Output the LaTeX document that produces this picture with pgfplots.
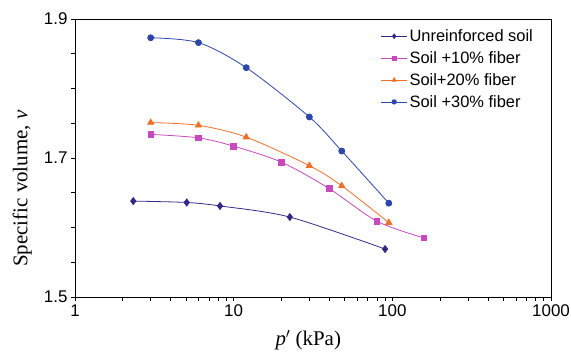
\documentclass[border=0pt]{standalone}
\usepackage{fontspec}
\setmainfont{Liberation Sans}
\newfontfamily\seriffont{Liberation Serif}
\usepackage{pgfplots}
\pgfplotsset{compat=1.18}
\definecolor{cUnr}{RGB}{52,40,135}
\definecolor{cTen}{RGB}{200,72,190}
\definecolor{cTwe}{RGB}{242,110,40}
\definecolor{cThi}{RGB}{45,70,170}
\begin{document}
\begin{tikzpicture}
\begin{axis}[
  at={(0,0)}, anchor=south west,
  scale only axis, width=476bp, height=278bp,
  xmode=log, xmin=1, xmax=1000, ymin=1.5, ymax=1.9,
  log ticks with fixed point,
  /pgf/number format/1000 sep={},
  xtick={1,10,100,1000},
  ytick={1.5,1.7,1.9},
  minor ytick={1.55,1.6,1.65,1.75,1.8,1.85},
  yticklabel style={/pgf/number format/fixed,/pgf/number format/fixed zerofill,/pgf/number format/precision=1},
  /pgf/number format/assume math mode=true,
  xtick pos=left, ytick pos=left,
  tick align=outside,
  major tick length=4bp, minor tick length=4bp,
  tick style={black, line width=0.6bp},
  axis line style={line width=0.8bp},
  ticklabel style={font=\fontsize{17}{19}\selectfont},
  xlabel={{\seriffont\fontsize{21}{24}\selectfont\textit{p}$'$ (kPa)}},
  ylabel={{\seriffont\fontsize{21}{24}\selectfont Specific volume, \textit{v}}},
  xlabel style={at={(axis description cs:0.49,-0.155)}, anchor=center},
  ylabel style={at={(axis description cs:-0.111,0.39)}, anchor=center},
  legend style={draw=none, fill=none, at={(axis description cs:0.642,0.97)}, anchor=north west,
    font=\fontsize{16.5}{18}\selectfont, row sep=4.5bp, inner sep=0pt,
    cells={anchor=west}},
  legend image code/.code={\draw[mark repeat=2,mark phase=2,mark size=2.2bp,#1] plot coordinates {(0bp,0bp)(13bp,0bp)(26bp,0bp)};},
  every axis plot/.append style={line width=0.8bp, smooth, tension=0.5},
]
\addplot[cUnr, mark=diamond*, mark size=3.5bp, mark options={fill=cUnr}] coordinates {
(2.33,1.638) (5.06,1.636) (8.2,1.631) (22.6,1.615) (90,1.569)};
\addlegendentry{Unreinforced soil}
\addplot[cTen, mark=square*, mark size=2.8bp, mark options={fill=cTen}] coordinates {
(3,1.734) (6,1.729) (10,1.717) (20,1.694) (40,1.656) (80,1.609) (158,1.585)};
\addlegendentry{Soil +10\% fiber}
\addplot[cTwe, mark=triangle*, mark size=3.5bp, mark options={fill=cTwe}] coordinates {
(3,1.751) (6,1.747) (12,1.730) (30,1.689) (48,1.660) (95,1.607)};
\addlegendentry{Soil+20\% fiber}
\addplot[cThi, mark=*, mark size=3bp, mark options={fill=cThi}] coordinates {
(3,1.873) (6,1.866) (12,1.830) (30,1.759) (48,1.710) (95,1.635)};
\addlegendentry{Soil +30\% fiber}
\end{axis}
\pgfresetboundingbox
\path[use as bounding box] (-75bp,-60bp) rectangle (496bp,297bp);
\end{tikzpicture}
\end{document}
